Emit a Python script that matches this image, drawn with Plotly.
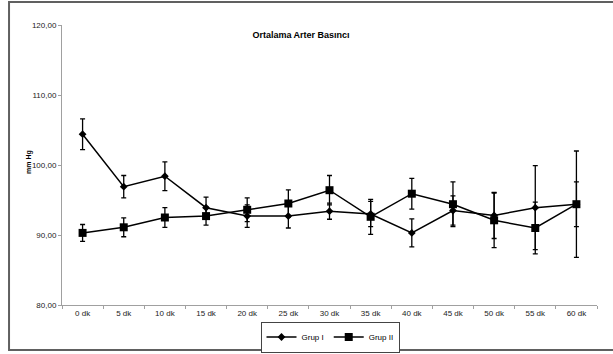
import plotly.graph_objects as go

categories = ["0 dk", "5 dk", "10 dk", "15 dk", "20 dk", "25 dk", "30 dk",
              "35 dk", "40 dk", "45 dk", "50 dk", "55 dk", "60 dk"]
grup1 = [104.4, 96.9, 98.4, 93.9, 92.7, 92.7, 93.4, 93.0, 90.3, 93.5, 92.8, 93.9, 94.4]
grup1_err = [2.2, 1.6, 2.05, 1.5, 1.6, 1.7, 1.15, 1.8, 2.0, 2.1, 3.3, 6.0, 3.2]
grup2 = [90.3, 91.1, 92.5, 92.7, 93.6, 94.5, 96.4, 92.6, 95.9, 94.4, 92.1, 91.0, 94.4]
grup2_err = [1.2, 1.35, 1.4, 1.3, 1.7, 1.95, 2.1, 2.5, 2.2, 3.2, 3.9, 3.7, 7.6]
y_ticks = [80, 90, 100, 110, 120]

FONT = "Liberation Sans, Arial, sans-serif"

fig = go.Figure()
fig.add_trace(go.Scatter(
    x=categories, y=grup1, name="Grup I", mode="lines+markers",
    line=dict(color="black", width=1.5),
    marker=dict(symbol="diamond", size=6, color="black"),
    error_y=dict(type="data", array=grup1_err, visible=True,
                 color="black", thickness=1.3, width=2.5),
))
fig.add_trace(go.Scatter(
    x=categories, y=grup2, name="Grup II", mode="lines+markers",
    line=dict(color="black", width=1.5),
    marker=dict(symbol="square", size=8, color="black"),
    error_y=dict(type="data", array=grup2_err, visible=True,
                 color="black", thickness=1.3, width=2.5),
))

fig.update_layout(
    width=613, height=354,
    margin=dict(l=62, r=16, t=25, b=49, autoexpand=False),
    paper_bgcolor="white", plot_bgcolor="white",
    separators=",.",
    font=dict(family=FONT, size=8, color="black"),
    title=dict(text="<b>Ortalama Arter Basıncı</b>", x=301/613, xref="container",
               xanchor="center", y=1-35/354, yref="container", yanchor="middle",
               font=dict(family=FONT, size=9, color="black")),
    showlegend=True,
    legend=dict(orientation="h", x=330/613, y=1-337/354, xref="container", yref="container",
                xanchor="center", yanchor="middle",
                bordercolor="#444444", borderwidth=1, bgcolor="white",
                font=dict(family=FONT, size=8, color="black"),
                itemwidth=30, tracegroupgap=0),
    xaxis=dict(type="category", range=[-0.5, 12.5], autorange=False,
               showgrid=False, zeroline=False,
               showline=True, linecolor="#a0a0a0", linewidth=1,
               ticks="outside", ticklen=3, tickcolor="#a0a0a0",
               tickson="boundaries", tickfont=dict(size=8, color="#222222")),
    yaxis=dict(range=[80, 120], autorange=False, tickvals=y_ticks, tickformat=".2f",
               showgrid=False, zeroline=False,
               showline=True, linecolor="#a0a0a0", linewidth=1,
               ticks="outside", ticklen=3, tickcolor="#a0a0a0",
               tickfont=dict(size=8, color="#222222")),
    annotations=[dict(text="<b>mm Hg</b>", x=-0.0729, y=0.511, xref="paper", yref="paper",
                      textangle=-90, showarrow=False,
                      font=dict(family=FONT, size=7, color="black"))],
    shapes=[dict(type="rect", xref="paper", yref="paper",
                 x0=-0.099, x1=1.0355, y0=-0.161, y1=1.082,
                 line=dict(color="#606060", width=2), fillcolor="rgba(0,0,0,0)",
                 layer="below")],
)

fig.write_html("out.html", config={"displayModeBar": False},
               post_script="document.body.style.margin='0';document.body.style.overflow='hidden';")
